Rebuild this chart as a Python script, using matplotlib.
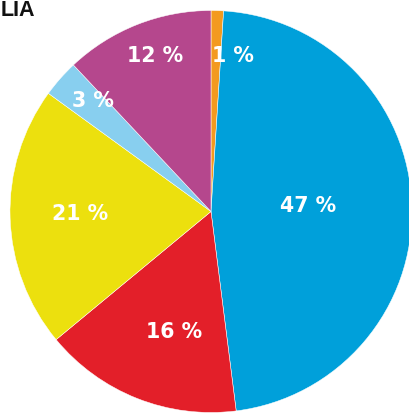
import matplotlib
matplotlib.use("Agg")
import matplotlib.pyplot as plt
import numpy as np

# Data
labels = ["1 %", "47 %", "16 %", "21 %", "3 %", "12 %"]
values = [1, 47, 16, 21, 3, 12]
colors = ["#F39A1F", "#00A0DA", "#E31F29", "#ECE00E", "#88CFEF", "#B5478D"]
title = "LIA"

# Label placement style (radial fraction, angular nudge in degrees)
label_frac = [0.78, 0.485, 0.625, 0.65, 0.805, 0.82]
label_nudge = [-6.3, 1.7, 4.7, -0.5, -1.7, -1.9]

W, H = 410, 413
fig = plt.figure(figsize=(W / 100, H / 100), dpi=100)
ax = fig.add_axes([0, 0, 1, 1])

R = 201
cx, cy = 211, H - 211.5
wedges, _ = ax.pie(values, colors=colors, startangle=90, counterclock=False,
                   radius=R, center=(cx, cy),
                   wedgeprops=dict(edgecolor="white", linewidth=0.35))
ax.set_xlim(0, W)
ax.set_ylim(0, H)
ax.set_aspect("auto")
ax.axis("off")

for w, lab, f, d in zip(wedges, labels, label_frac, label_nudge):
    mid = np.deg2rad((w.theta1 + w.theta2) / 2 + d)
    x = cx + f * R * np.cos(mid)
    y = cy + f * R * np.sin(mid)
    ax.text(x, y, lab, ha="center", va="center", color="white",
            fontsize=14.8, fontweight="bold", family="DejaVu Sans")

fig.text(0.2 / W, 1 - 10 / H, title, ha="left", va="center", color="#111111",
         fontsize=15.5, fontweight="bold", family="Liberation Sans")

fig.savefig("out.png", dpi=100)
